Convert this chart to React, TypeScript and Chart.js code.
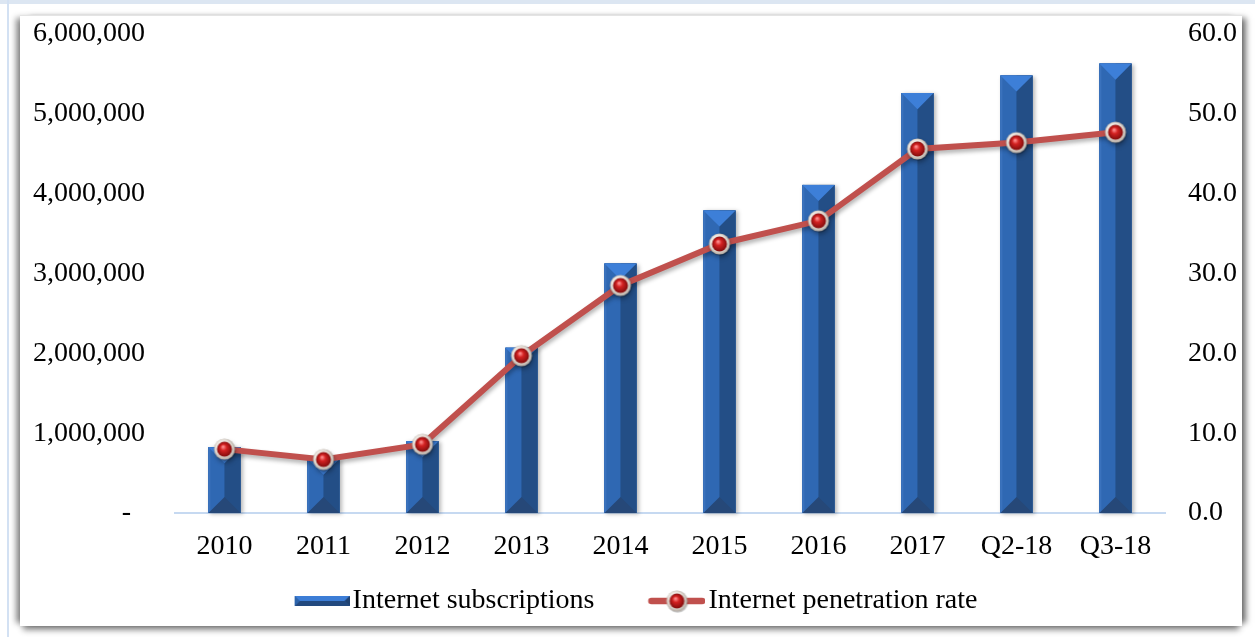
import React, { useEffect, useRef } from 'react';
import { Chart, registerables } from 'chart.js';

Chart.register(...registerables);

const categories = ['2010', '2011', '2012', '2013', '2014', '2015', '2016', '2017', 'Q2-18', 'Q3-18'];
const subscriptions = [825000, 680000, 900000, 2070000, 3125000, 3790000, 4110000, 5260000, 5480000, 5630000];
const penetration = [8.0, 6.7, 8.6, 19.7, 28.5, 33.7, 36.6, 45.6, 46.4, 47.7];
const seriesNames = ['Internet subscriptions', 'Internet penetration rate'];
const leftMax = 6000000;
const leftStep = 1000000;
const rightMax = 60;
const rightStep = 10;

const FONT = "'Liberation Serif', 'Times New Roman', serif";
const FONT_SIZE = 28;
const LINE_RED = '#c0504d';

function makeMarker(): HTMLCanvasElement {
  const c = document.createElement('canvas');
  c.width = 26;
  c.height = 26;
  const g = c.getContext('2d')!;
  const cx = 13, cy = 13;
  g.beginPath();
  g.arc(cx + 0.7, cy + 1.3, 10.5, 0, Math.PI * 2);
  g.fillStyle = 'rgba(0,0,0,0.22)';
  g.fill();
  const ring = g.createRadialGradient(cx - 3, cy - 4, 1, cx, cy, 11.5);
  ring.addColorStop(0, '#ffffff');
  ring.addColorStop(0.65, '#e9e2da');
  ring.addColorStop(1, '#a39a92');
  g.beginPath();
  g.arc(cx, cy, 10.5, 0, Math.PI * 2);
  g.fillStyle = ring;
  g.fill();
  const red = g.createRadialGradient(cx - 1.5, cy - 2.5, 0.5, cx, cy, 8);
  red.addColorStop(0, '#ff9090');
  red.addColorStop(0.35, '#d42222');
  red.addColorStop(1, '#7a0a0a');
  g.beginPath();
  g.arc(cx, cy, 7.5, 0, Math.PI * 2);
  g.fillStyle = red;
  g.fill();
  return c;
}

function makeBarIcon(): HTMLCanvasElement {
  const c = document.createElement('canvas');
  c.width = 97;
  c.height = 26;
  const g = c.getContext('2d')!;
  const l = 42, r = 97, t = 8, b = 18, m = 13, d = 5;
  g.fillStyle = '#2e67b1';
  g.fillRect(l, t, r - l, b - t);
  g.fillStyle = '#3c7dd6';
  g.beginPath(); g.moveTo(l, t); g.lineTo(r, t); g.lineTo(r - d, m); g.lineTo(l + d, m); g.closePath(); g.fill();
  g.fillStyle = '#22497f';
  g.beginPath(); g.moveTo(l + d, m); g.lineTo(r - d, m); g.lineTo(r, b); g.lineTo(l, b); g.closePath(); g.fill();
  g.fillStyle = '#2d64ab';
  g.beginPath(); g.moveTo(l, t); g.lineTo(l + d, m); g.lineTo(l, b); g.closePath(); g.fill();
  g.fillStyle = '#1f4170';
  g.beginPath(); g.moveTo(r, t); g.lineTo(r - d, m); g.lineTo(r, b); g.closePath(); g.fill();
  return c;
}

function makeLineIcon(marker: HTMLCanvasElement): HTMLCanvasElement {
  const c = document.createElement('canvas');
  c.width = 97;
  c.height = 26;
  const g = c.getContext('2d')!;
  g.strokeStyle = LINE_RED;
  g.lineWidth = 6.5;
  g.lineCap = 'round';
  g.beginPath();
  g.moveTo(43, 13);
  g.lineTo(94, 13);
  g.stroke();
  g.drawImage(marker, 68.5 - 13, 0);
  return c;
}

const bevelPlugin = {
  id: 'bevel',
  afterDatasetDraw(chart: any, args: any) {
    if (args.index !== 0) return;
    const ctx = chart.ctx as CanvasRenderingContext2D;
    args.meta.data.forEach((el: any) => {
      const { x, y, base, width } = el.getProps(['x', 'y', 'base', 'width'], true);
      const l = x - width / 2;
      const r = x + width / 2;
      const t = Math.min(y, base);
      const b = Math.max(y, base);
      const d = Math.min(width / 2, (b - t) / 2);
      ctx.save();
      ctx.shadowColor = 'rgba(0,0,0,0.28)';
      ctx.shadowBlur = 4;
      ctx.shadowOffsetX = 2;
      ctx.shadowOffsetY = 1;
      ctx.fillStyle = '#2b62aa';
      ctx.fillRect(l, t, width, b - t);
      ctx.restore();
      ctx.save();
      ctx.fillStyle = '#2f68b3';
      ctx.fillRect(l, t, x - l, b - t);
      ctx.fillStyle = '#3a72bd';
      ctx.fillRect(l, t, 2, b - t);
      ctx.fillStyle = '#234e86';
      ctx.fillRect(x, t, r - x, b - t);
      ctx.fillStyle = '#3d7fd8';
      ctx.beginPath(); ctx.moveTo(l, t); ctx.lineTo(r, t); ctx.lineTo(x, t + d); ctx.closePath(); ctx.fill();
      ctx.fillStyle = '#264878';
      ctx.beginPath(); ctx.moveTo(l, b); ctx.lineTo(r, b); ctx.lineTo(x, b - d); ctx.closePath(); ctx.fill();
      ctx.restore();
    });
  },
  beforeDatasetDraw(chart: any, args: any) {
    if (args.index !== 1) return;
    const ctx = chart.ctx as CanvasRenderingContext2D;
    ctx.save();
    ctx.shadowColor = 'rgba(0,0,0,0.3)';
    ctx.shadowBlur = 4;
    ctx.shadowOffsetX = 1;
    ctx.shadowOffsetY = 3;
  },
};

const lineShadowRestore = {
  id: 'lineShadowRestore',
  afterDatasetDraw(chart: any, args: any) {
    if (args.index !== 1) return;
    chart.ctx.restore();
  },
};

export default function App() {
  const ref = useRef<HTMLCanvasElement | null>(null);

  useEffect(() => {
    if (!ref.current) return;
    const marker = makeMarker();
    const legendIcons = [makeBarIcon(), makeLineIcon(marker)];
    const chart = new Chart(ref.current, {
      type: 'bar',
      data: {
        labels: categories,
        datasets: [
          {
            type: 'bar',
            label: seriesNames[0],
            data: subscriptions,
            backgroundColor: '#2e67b1',
            borderWidth: 0,
            barPercentage: 0.325,
            categoryPercentage: 1,
            yAxisID: 'y',
            order: 2,
          },
          {
            type: 'line',
            label: seriesNames[1],
            data: penetration,
            borderColor: LINE_RED,
            borderWidth: 6,
            tension: 0,
            pointStyle: marker as any,
            pointRadius: 10,
            pointHoverRadius: 10,
            yAxisID: 'y1',
            order: 1,
          },
        ] as any,
      },
      options: {
        responsive: false,
        animation: false,
        devicePixelRatio: 1,
        layout: { padding: { left: 5, right: 19, top: 34, bottom: 12 } },
        plugins: {
          tooltip: { enabled: false },
          legend: {
            position: 'bottom',
            labels: {
              usePointStyle: true,
              pointStyleWidth: 75,
              padding: 25,
              color: '#000',
              font: { family: FONT, size: FONT_SIZE },
              sort: (a: any, b: any) => a.datasetIndex - b.datasetIndex,
              generateLabels: (ch: any) => {
                const items = Chart.defaults.plugins.legend.labels.generateLabels(ch);
                return items.map((it: any) => ({
                  ...it,
                  pointStyle: legendIcons[it.datasetIndex],
                  fontColor: '#000',
                }));
              },
            },
          },
        },
        scales: {
          x: {
            type: 'category',
            grid: { display: false, drawTicks: false },
            border: { display: true, color: '#c6d9f1', width: 2 },
            ticks: {
              color: '#000',
              font: { family: FONT, size: FONT_SIZE },
              padding: 17,
              autoSkip: false,
              maxRotation: 0,
              minRotation: 0,
            },
            afterFit: (s: any) => { s.height = 49; },
          },
          y: {
            position: 'left',
            min: 0,
            max: leftMax,
            grid: { display: false, drawTicks: false },
            border: { display: false },
            ticks: {
              stepSize: leftStep,
              color: '#000',
              font: { family: FONT, size: FONT_SIZE },
              padding: 30,
              callback: (v: any) => (Number(v) === 0 ? '-  ' : Number(v).toLocaleString('en-US')),
            },
            afterFit: (s: any) => { s.width = 170; s.paddingTop = 0; s.paddingBottom = 0; },
          },
          y1: {
            position: 'right',
            min: 0,
            max: rightMax,
            grid: { display: false, drawTicks: false },
            border: { display: false },
            ticks: {
              stepSize: rightStep,
              color: '#000',
              font: { family: FONT, size: FONT_SIZE },
              padding: 23,
              callback: (v: any) => Number(v).toFixed(1),
            },
            afterFit: (s: any) => { s.width = 71; s.paddingTop = 0; s.paddingBottom = 0; },
          },
        },
      } as any,
      plugins: [bevelPlugin, lineShadowRestore],
    });
    return () => chart.destroy();
  }, []);

  return (
    <div style={{ position: 'absolute', left: 0, top: 0, width: 1255, height: 637, background: '#fff', overflow: 'hidden' }}>
      <div style={{ position: 'absolute', left: 0, top: 0, width: 1255, height: 4, background: '#dce6f2' }} />
      <div style={{ position: 'absolute', left: 7, top: 0, width: 2, height: 637, background: '#d3e1f3' }} />
      <div
        style={{
          position: 'absolute',
          left: 20,
          top: 15,
          width: 1222,
          height: 610,
          background: '#fff',
          borderTop: '1px solid #e4e4e4',
          boxShadow:
            '-7px 0 6px -3px rgba(0,0,0,0.45), 7px 0 6px -3px rgba(0,0,0,0.55), 0 7px 6px -3px rgba(0,0,0,0.45)',
        }}
      />
      <canvas ref={ref} width={1255} height={637} style={{ position: 'absolute', left: 0, top: 0, width: 1255, height: 637 }} />
    </div>
  );
}
